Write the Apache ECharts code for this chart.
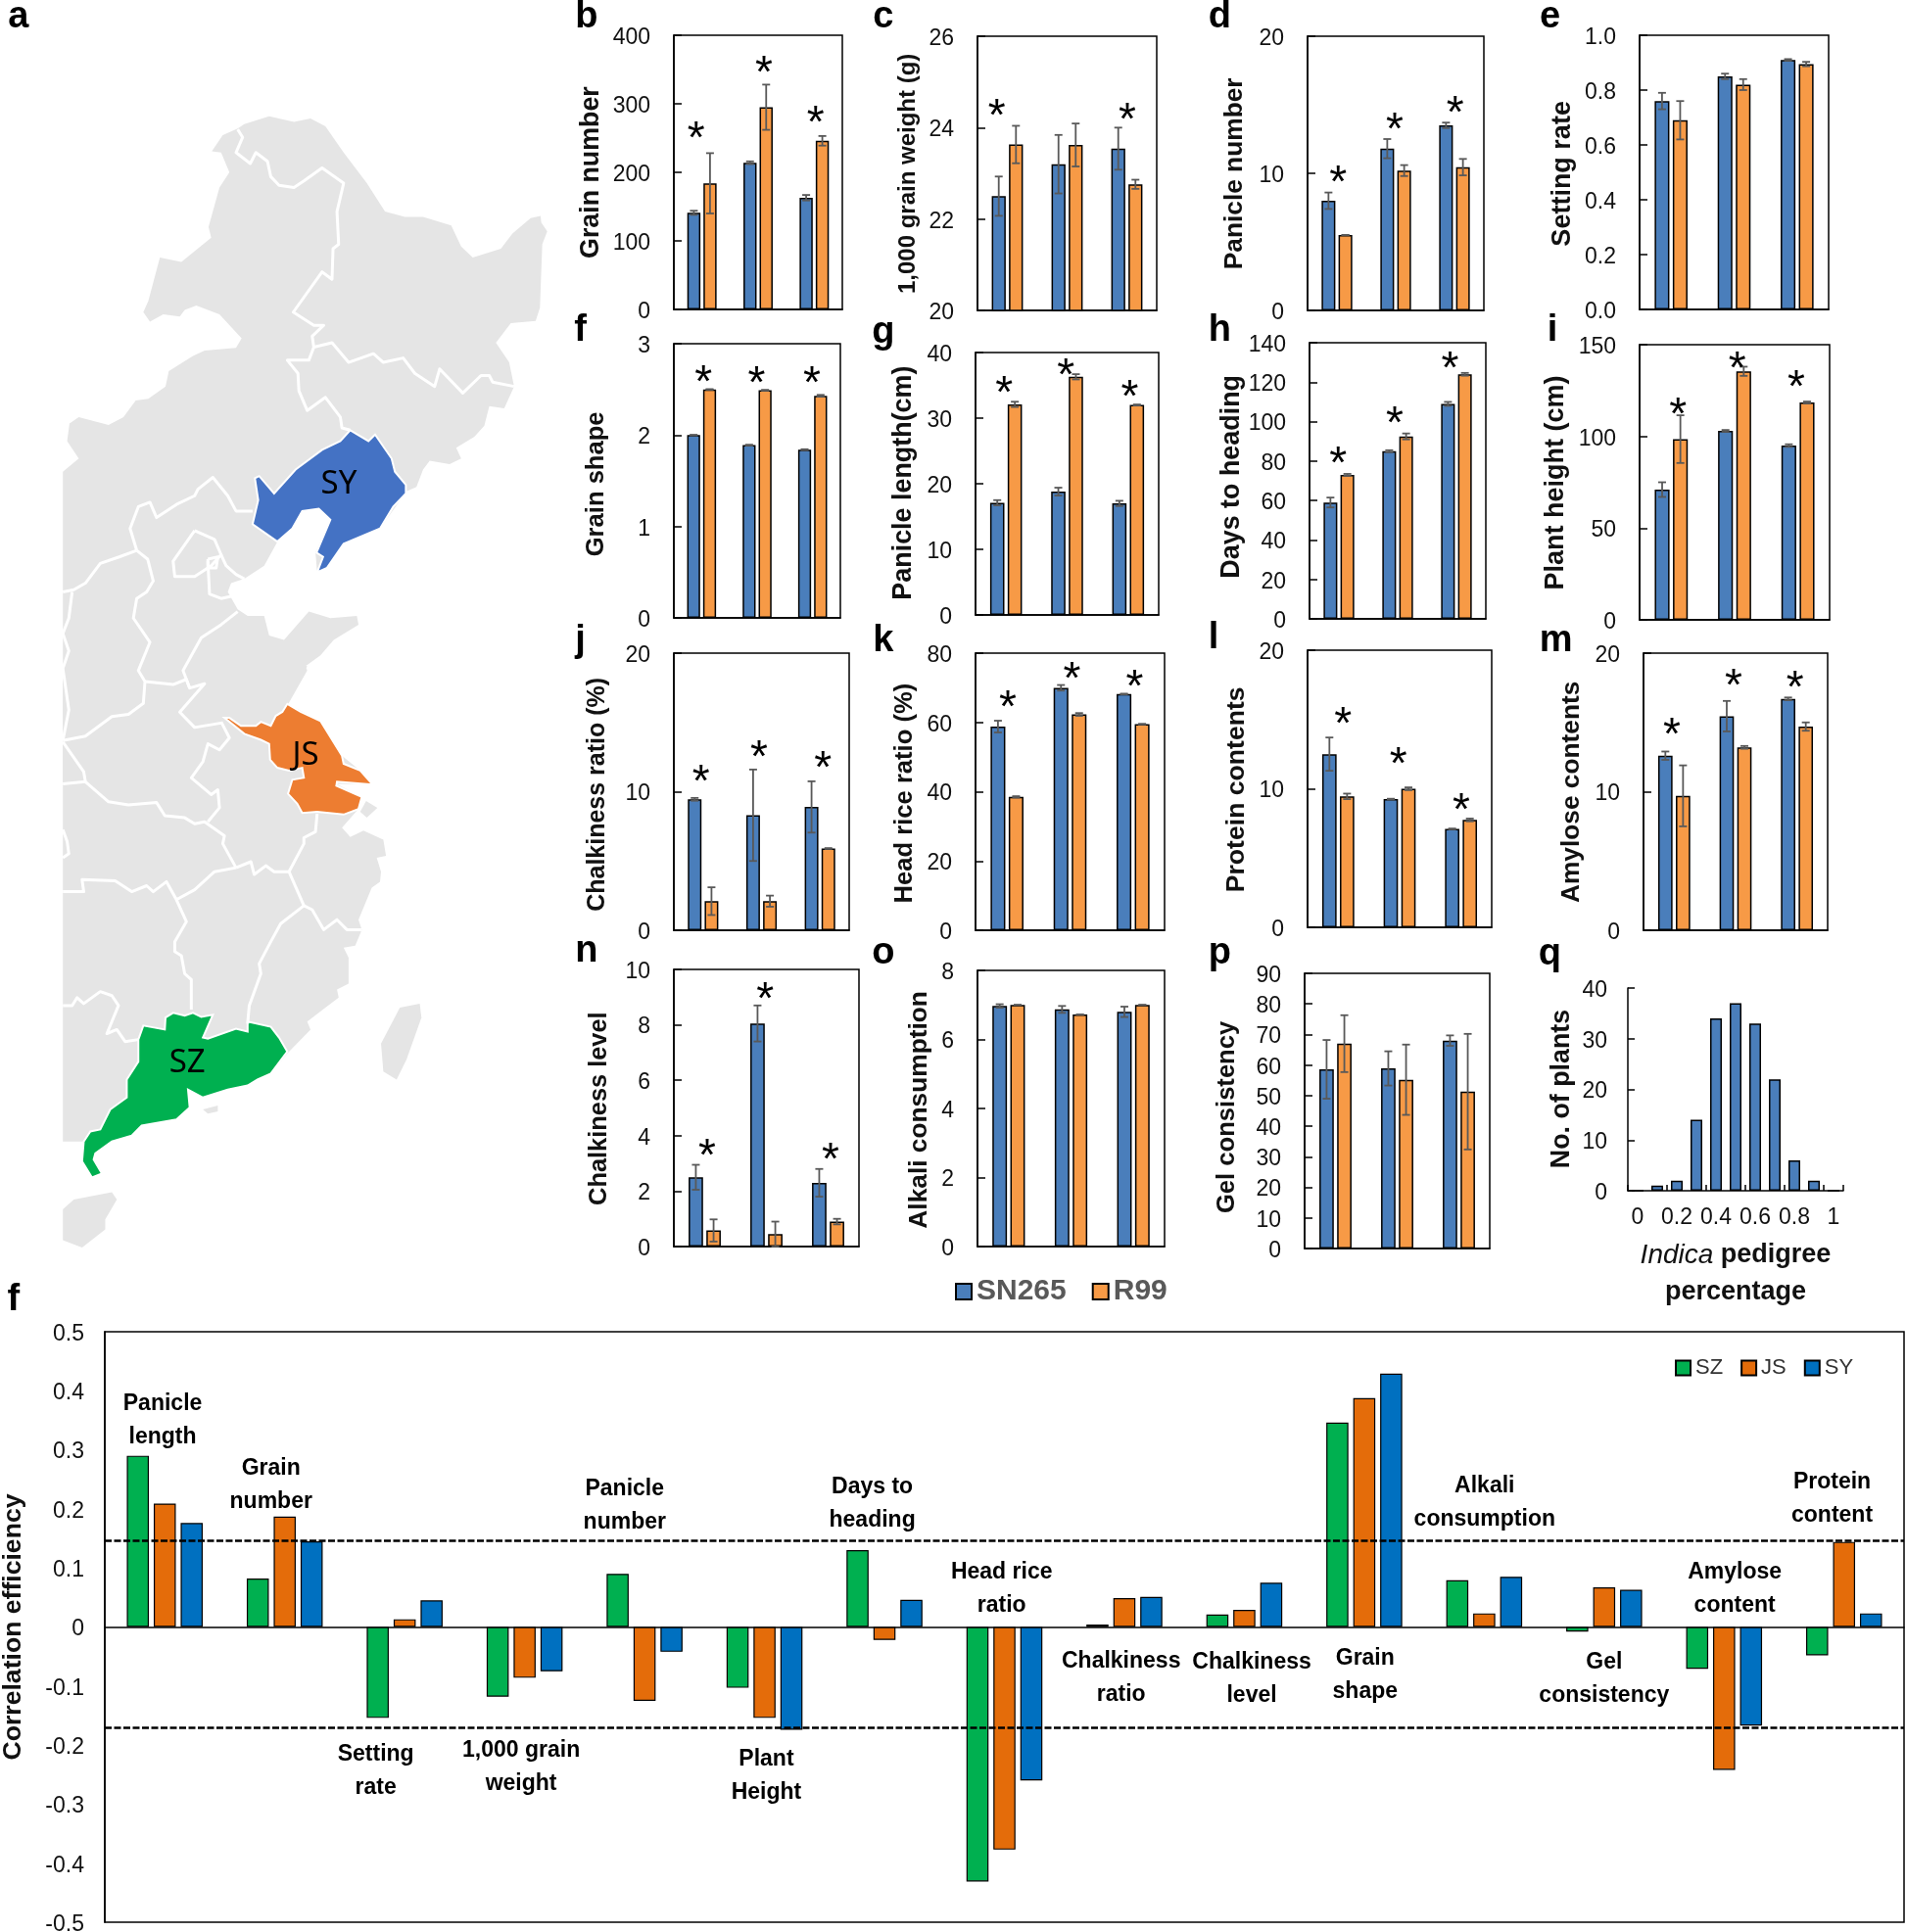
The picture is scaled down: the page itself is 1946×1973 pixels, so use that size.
<!DOCTYPE html>
<html><head><meta charset="utf-8">
<style>html,body{margin:0;padding:0;background:#fff}#c{width:1946px;height:1973px}</style>
<script src="https://cdn.jsdelivr.net/npm/echarts@6/dist/echarts.min.js"></script>
</head><body><div id="c"></div>
<script>
// ---------- data ----------
const sites = ['SZ', 'JS', 'SY'];
const grainNumberSN = [141, 214, 163], grainNumberR = [184, 295, 246], grainNumberSNe = [3, 2, 4], grainNumberRe = [44, 33, 7];
const grainWeightSN = [22.5, 23.2, 23.54], grainWeightR = [23.63, 23.62, 22.76], grainWeightSNe = [0.43, 0.64, 0.46], grainWeightRe = [0.41, 0.47, 0.1];
const panicleNumSN = [8, 11.8, 13.5], panicleNumR = [5.5, 10.2, 10.45], panicleNumSNe = [0.6, 0.7, 0.2], panicleNumRe = [0, 0.4, 0.6];
const settingSN = [0.76, 0.85, 0.91], settingR = [0.69, 0.82, 0.895], settingSNe = [0.03, 0.01, 0.003], settingRe = [0.07, 0.02, 0.008];
const shapeSN = [2, 1.89, 1.84], shapeR = [2.5, 2.49, 2.43], shapeSNe = [0.003, 0.005, 0.005], shapeRe = [0.003, 0.005, 0.01];
const panicleLenSN = [17.1, 18.8, 17], panicleLenR = [32.1, 36.3, 32], panicleLenSNe = [0.4, 0.6, 0.4], panicleLenRe = [0.4, 0.4, 0.08];
const headingSN = [59, 85, 109], headingR = [73, 92.5, 124], headingSNe = [2.5, 0.5, 1], headingRe = [0.5, 1.5, 0.7];
const heightSN = [71, 103, 95], heightR = [98.5, 135.5, 118.5], heightSNe = [4, 0.5, 0.7], heightRe = [13, 2.5, 0.5];
const chalkRatioSN = [9.45, 8.3, 8.9], chalkRatioR = [2.1, 2.1, 5.9], chalkRatioSNe = [0.1, 3.3, 1.85], chalkRatioRe = [1, 0.4, 0.03];
const headRiceSN = [58.8, 70, 68.2], headRiceR = [38.5, 62.3, 59.5], headRiceSNe = [1.7, 0.8, 0.1], headRiceRe = [0.2, 0.4, 0.1];
const proteinSN = [12.5, 9.25, 7.1], proteinR = [9.45, 10, 7.75], proteinSNe = [1.2, 0.03, 0.03], proteinRe = [0.2, 0.1, 0.1];
const amyloseSN = [12.6, 15.45, 16.7], amyloseR = [9.7, 13.2, 14.7], amyloseSNe = [0.3, 1.1, 0.1], amyloseRe = [2.2, 0.1, 0.3];
const chalkLevelSN = [2.5, 8.05, 2.3], chalkLevelR = [0.58, 0.45, 0.9], chalkLevelSNe = [0.45, 0.65, 0.5], chalkLevelRe = [0.4, 0.45, 0.1];
const alkaliSN = [6.97, 6.87, 6.8], alkaliR = [7, 6.72, 7], alkaliSNe = [0.05, 0.1, 0.15], alkaliRe = [0, 0, 0];
const gelSN = [58.6, 58.9, 68], gelR = [67, 55.2, 51.3], gelSNe = [9.6, 5.6, 1.7], gelRe = [9.3, 11.5, 18.9];
const pedigreeBins = ['0', '0.1', '0.2', '0.3', '0.4', '0.5', '0.6', '0.7', '0.8', '0.9', '1'];
const pedigreeCounts = [0, 1, 2, 14, 34, 37, 33, 22, 6, 2, 0];
const traits = ['Panicle length', 'Grain number', 'Setting rate', '1,000 grain weight', 'Panicle number', 'Plant Height', 'Days to heading', 'Head rice ratio', 'Chalkiness ratio', 'Chalkiness level', 'Grain shape', 'Alkali consumption', 'Gel consistency', 'Amylose content', 'Protein content'];
const corrSZ = [0.29, 0.082, -0.154, -0.118, 0.09, -0.103, 0.13, -0.431, 0.004, 0.021, 0.346, 0.079, -0.008, -0.071, -0.048];
const corrJS = [0.209, 0.187, 0.013, -0.086, -0.125, -0.154, -0.022, -0.377, 0.049, 0.029, 0.3875, 0.023, 0.067, -0.242, 0.144];
const corrSY = [0.176, 0.145, 0.045, -0.075, -0.042, -0.174, 0.046, -0.26, 0.051, 0.075, 0.429, 0.085, 0.063, -0.167, 0.023];
const thresholds = [0.146, -0.17];

// ---------- map outlines (traced in crop frames, converted below) ----------
const northLand = [[42,855],[90,825],[55,785],[62,745],[90,730],[180,748],[225,730],[262,692],[300,688],[352,660],[362,625],[435,590],[470,578],[565,572],[582,550],[515,495],[445,475],[410,485],[395,500],[345,495],[305,512],[285,490],[300,465],[335,365],[400,375],[490,320],[482,295],[515,205],[545,170],[520,125],[492,122],[525,85],[570,70],[590,60],[665,42],[740,55],[790,47],[835,65],[890,125],[960,195],[1015,260],[1075,272],[1130,272],[1215,292],[1245,340],[1280,365],[1365,345],[1400,310],[1455,275],[1485,270],[1487,285],[1505,305],[1490,335],[1483,480],[1470,510],[1395,515],[1350,560],[1390,605],[1405,660],[1375,710],[1330,705],[1315,750],[1285,775],[1230,800],[1245,825],[1210,838],[1150,830],[1130,850],[1110,890],[1080,900],[1000,985],[890,1020],[840,1075],[810,1085],[805,1040],[850,965],[815,940],[765,945],[735,985],[690,1015],[650,1070],[590,1100],[550,1110],[540,1130],[570,1170],[600,1185],[650,1185],[665,1230],[710,1240],[785,1175],[850,1190],[930,1185],[935,1205],[860,1240],[820,1275],[775,1300],[780,1310],[720,1390],[760,1568],[42,1568]];
const southLand = [[42,0],[780,0],[720,95],[820,138],[885,225],[940,262],[978,297],[868,295],[945,328],[935,358],[885,405],[910,428],[950,412],[1010,435],[1018,475],[990,480],[1003,515],[1000,540],[975,555],[935,635],[945,660],[925,700],[890,705],[905,730],[905,795],[870,810],[875,830],[835,855],[780,890],[790,910],[725,965],[670,1020],[630,1035],[600,1050],[540,1060],[465,1080],[420,1060],[425,1105],[385,1135],[280,1150],[250,1175],[190,1190],[105,1190],[42,1190]];
const shanghaiIsle = [[958,338],[992,355],[960,380],[940,365]];
const hainan = [[42,1360],[75,1335],[190,1317],[205,1335],[170,1385],[170,1410],[100,1455],[42,1437]];
const taiwan = [[1060,855],[1120,845],[1125,880],[1080,985],[1050,1035],[1010,1015],[1003,945]];
const islet = [[465,1110],[510,1100],[510,1115],[480,1120]];
const syRegion = [[910,760],[965,785],[985,770],[1035,825],[1045,855],[1078,885],[1078,905],[1040,935],[1000,985],[890,1020],[840,1075],[810,1085],[828,1050],[808,1040],[850,965],[815,940],[765,945],[735,985],[690,1015],[615,975],[632,920],[622,870],[635,865],[680,905],[745,850],[825,805],[880,785]];
const jsRegion = [[530,130],[545,130],[580,150],[625,150],[640,140],[670,150],[685,125],[705,115],[720,95],[760,115],[820,138],[885,225],[890,245],[940,262],[978,297],[905,292],[870,290],[868,300],[945,328],[935,358],[890,372],[810,365],[765,368],[750,345],[722,320],[735,285],[770,280],[765,255],[725,262],[690,255],[668,235],[665,195],[640,185],[590,170]];
const szRegion = [[270,935],[285,900],[350,910],[352,880],[375,868],[410,875],[435,868],[460,878],[495,873],[465,930],[480,933],[565,908],[600,915],[600,890],[670,903],[695,930],[720,965],[670,1020],[630,1035],[600,1050],[540,1060],[465,1080],[420,1060],[425,1105],[385,1135],[280,1150],[250,1175],[190,1190],[140,1220],[135,1235],[160,1270],[130,1280],[100,1240],[105,1190],[125,1165],[155,1160],[185,1110],[235,1080],[235,1035],[270,990]];
const northBorders = [
 [[570,72],[585,90],[565,125],[608,150],[625,125],[660,145],[670,180],[695,200],[740,205],[770,190],[825,160],[890,195],[870,260],[875,335],[858,345],[855,415],[825,398],[738,490],[800,520],[830,520],[795,545],[800,570],[785,600],[720,600],[752,630],[755,670],[780,715],[835,685],[880,730],[885,755],[910,760]],
 [[800,570],[855,560],[905,605],[980,585],[1010,605],[1070,595],[1105,630],[1165,660],[1180,620],[1250,675],[1305,635],[1330,635],[1340,650],[1405,660]],
 [[615,945],[565,945],[540,910],[495,868],[450,895],[440,910],[385,930],[325,960],[305,925],[270,935],[245,985],[265,1035]],
 [[265,1035],[212,1050],[155,1065],[110,1110],[75,1125],[42,1130]],
 [[265,1035],[298,1055],[315,1105],[295,1130],[265,1145],[255,1190],[305,1245],[270,1310],[290,1335],[285,1385],[240,1410],[190,1415],[110,1460],[42,1470]],
 [[290,1335],[375,1342],[415,1330],[425,1350],[470,1340],[395,1405],[440,1440],[520,1430]],
 [[425,1350],[405,1310],[460,1235],[520,1205],[570,1175]],
 [[440,990],[500,1010],[520,1045],[490,1070],[440,1095],[380,1095],[375,1060],[440,990]],
 [[520,1045],[535,1070],[565,1090],[590,1100]],
 [[480,1060],[485,1135],[520,1145],[550,1140]],
 [[480,1055],[510,1050],[505,1075],[480,1075],[480,1055]],
 [[70,1130],[60,1190],[42,1225],[60,1265],[42,1305],[60,1400],[42,1470]]
];
const southBorders = [
 [[42,190],[105,265],[110,290],[180,340],[240,348],[325,342],[350,375],[410,380],[440,395],[470,390],[530,425],[525,445],[565,505]],
 [[42,295],[110,290]],
 [[520,140],[545,180],[515,210],[480,195],[465,240],[430,280],[490,322],[510,310],[515,355],[480,390]],
 [[565,505],[610,490],[620,522],[655,500],[680,515],[725,515],[770,445],[770,430],[805,415],[810,370]],
 [[565,505],[500,515],[440,560],[385,585],[355,540],[315,565],[295,550],[250,565],[200,538],[100,535],[105,565],[42,565]],
 [[385,585],[415,640],[380,690],[380,715],[400,725],[410,770],[430,785],[430,860]],
 [[725,515],[770,600],[700,645],[670,690],[635,745],[640,770],[605,850],[600,895]],
 [[770,600],[795,610],[830,660],[870,635],[900,660],[945,660]],
 [[42,850],[70,850],[85,830],[105,845],[155,815],[190,825],[210,850],[175,920],[205,910],[230,940],[270,935]],
 [[42,410],[55,440],[60,470],[42,480]]
];

// ---------- layout ----------
const S = 1946 / 1547;
const FONT = '"Liberation Sans"';
const BLUE = '#4A7EBB', ORANGE = '#F79A46';
const sn = (a,b,c,d)=>({sn:a,r:b,sne:c,re:d});
const panels = [
 {t:'Grain number',box:[688,36,860,316],min:0,max:400,iv:100,fs:26.8,nx:477,ny:140,d:sn(grainNumberSN,grainNumberR,grainNumberSNe,grainNumberRe)},
 {t:'1,000 grain weight (g)',box:[998,37,1181,317],min:20,max:26,iv:2,fs:24,nx:735,ny:141,d:sn(grainWeightSN,grainWeightR,grainWeightSNe,grainWeightRe)},
 {t:'Panicle number',box:[1335,37,1515,317],min:0,max:20,iv:10,fs:26.3,nx:1000,ny:141,d:sn(panicleNumSN,panicleNumR,panicleNumSNe,panicleNumRe)},
 {t:'Setting rate',box:[1674,36,1867,316],min:0,max:1,iv:0.2,fs:27,nx:1266,ny:141,dec:1,d:sn(settingSN,settingR,settingSNe,settingRe)},
 {t:'Grain shape',box:[688,351,858,631],min:0,max:3,iv:1,fs:25.6,nx:482,ny:393,d:sn(shapeSN,shapeR,shapeSNe,shapeRe)},
 {t:'Panicle length(cm)',box:[996,360,1183,628],min:0,max:40,iv:10,fs:26.9,nx:731,ny:392,d:sn(panicleLenSN,panicleLenR,panicleLenSNe,panicleLenRe)},
 {t:'Days to heading',box:[1337,350,1517,632],min:0,max:140,iv:20,fs:26.9,nx:997,ny:387,d:sn(headingSN,headingR,headingSNe,headingRe)},
 {t:'Plant height (cm)',box:[1674,352,1868,633],min:0,max:150,iv:50,fs:27,nx:1260,ny:392,d:sn(heightSN,heightR,heightSNe,heightRe)},
 {t:'Chalkiness ratio (%)',box:[688,667,867,950],min:0,max:20,iv:10,fs:25,nx:483,ny:645,d:sn(chalkRatioSN,chalkRatioR,chalkRatioSNe,chalkRatioRe)},
 {t:'Head rice ratio (%)',box:[996,667,1189,950],min:0,max:80,iv:20,fs:25.6,nx:732,ny:644,d:sn(headRiceSN,headRiceR,headRiceSNe,headRiceRe)},
 {t:'Protein contents',box:[1335,664,1523,947],min:0,max:20,iv:10,fs:26.6,nx:1001,ny:641,d:sn(proteinSN,proteinR,proteinSNe,proteinRe)},
 {t:'Amylose contents',box:[1678,667,1866,950],min:0,max:20,iv:10,fs:26.3,nx:1273,ny:643,d:sn(amyloseSN,amyloseR,amyloseSNe,amyloseRe)},
 {t:'Chalkiness level',box:[688,990,877,1273],min:0,max:10,iv:2,fs:25.4,nx:484,ny:900,d:sn(chalkLevelSN,chalkLevelR,chalkLevelSNe,chalkLevelRe)},
 {t:'Alkali consumption',box:[998,991,1189,1273],min:0,max:8,iv:2,fs:26.3,nx:744,ny:901,d:sn(alkaliSN,alkaliR,alkaliSNe,alkaliRe)},
 {t:'Gel consistency',box:[1332,994,1521,1275],min:0,max:90,iv:10,fs:25.6,nx:994,ny:907,d:sn(gelSN,gelR,gelSNe,gelRe)}
];
const panelLetters = [['a',15,14],['b',476,14],['c',717,14],['d',990,14],['e',1258,14],['f',471,268],['g',717,270],['h',990,268],['i',1260,268],['j',471,520],['k',717,520],['l',985,518],['m',1263,520],['n',476,772],['o',717,774],['p',990,774],['q',1258,775],['f',11,1055]];
const starMarks = [[565,106],[620,53],[662,93],[809,88],[915,91],[1086,142],[1132,99],[1181,85],[571,304],[614,305],[659,305],[815,313],[865,298],[917,316],[1086,370],[1132,337],[1177,293],[1362,330],[1410,293],[1458,308],[569,628],[616,608],[668,617],[818,568],[870,545],[921,551],[1090,581],[1135,614],[1186,651],[1357,590],[1407,550],[1457,552],[574,932],[621,805],[674,935]];
const traitLabelPos = [[132,1153],[220,1206],[305,1438],[423,1435],[507,1222],[622,1442],[708,1221],[813,1290],[910,1362],[1016,1363],[1108,1360],[1205,1220],[1302,1363],[1408,1290],[1487,1217]];
const siteLabels = [['SY',275,393],['JS',248,613],['SZ',152,863]];

const BW = 0.234, GAP = 0.23;
function errorSeries(name, gridIdx, vals, errs, side){
  return {
    type:'custom', name, xAxisIndex:gridIdx, yAxisIndex:gridIdx, z:5, silent:true, clip:false,
    data: vals.map((v,i)=>[i,v,errs[i]]),
    encode:{x:0,y:1},
    renderItem(params, api){
      const i=api.value(0), v=api.value(1), e=api.value(2);
      const cat=api.size([1,0])[0];
      const off=side*cat*BW*(1+GAP)/2;
      const top=api.coord([i,v+e]), bot=api.coord([i,v-e]);
      const x=top[0]+off, cap=4;
      const st={stroke:'#595959',lineWidth:1.8,fill:null};
      return {type:'group',children:[
        {type:'line',shape:{x1:x,y1:top[1],x2:x,y2:bot[1]},style:st},
        {type:'line',shape:{x1:x-cap,y1:top[1],x2:x+cap,y2:top[1]},style:st},
        {type:'line',shape:{x1:x-cap,y1:bot[1],x2:x+cap,y2:bot[1]},style:st}
      ]};
    }
  };
}
const labelBase = {color:'#111',fontFamily:FONT,fontSize:23};
const yLabelNudge = {verticalAlign:'top',lineHeight:5};
const grid=[], xAxis=[], yAxis=[], series=[];
panels.forEach((p,i)=>{
  const [l,t,r,b]=p.box;
  grid.push({left:l,top:t,width:r-l,height:b-t,outerBoundsMode:'none',show:true,borderColor:'#000',borderWidth:1.5,backgroundColor:'transparent'});
  xAxis.push({type:'category',gridIndex:i,data:sites,axisTick:{show:false},axisLabel:{show:false},axisLine:{lineStyle:{color:'#000',width:1.5}}});
  const gap = l - p.nx*S - p.fs*0.62;
  const shift = p.ny*S - (t+b)/2;
  yAxis.push({type:'value',gridIndex:i,min:p.min,max:p.max,interval:p.iv,splitLine:{show:false},
    axisLine:{show:true,lineStyle:{color:'#000',width:1.5}},
    axisTick:{show:true,inside:true,length:8,lineStyle:{color:'#000',width:1.5}},
    axisLabel:Object.assign({margin:24,formatter:p.dec?(v=>v.toFixed(p.dec)):(v=>String(v))},labelBase,yLabelNudge),
    name:p.t,nameLocation:'middle',nameRotate:90,nameGap:gap,
    nameTextStyle:{fontFamily:FONT,fontWeight:'bold',fontSize:p.fs,color:'#111',padding:shift>0?[0,2*shift,0,0]:[0,0,0,-2*shift]}});
  const st=c=>({color:c,borderColor:'#000',borderWidth:1.5});
  series.push({type:'bar',name:'SN265',xAxisIndex:i,yAxisIndex:i,data:p.d.sn,barWidth:(BW*100)+'%',barGap:(GAP*100)+'%',itemStyle:st(BLUE)});
  series.push({type:'bar',name:'R99',xAxisIndex:i,yAxisIndex:i,data:p.d.r,barWidth:(BW*100)+'%',barGap:(GAP*100)+'%',itemStyle:st(ORANGE)});
  series.push(errorSeries('SN265 error',i,p.d.sn,p.d.sne,-1));
  series.push(errorSeries('R99 error',i,p.d.r,p.d.re,1));
});
// q: histogram
const qi=panels.length;
grid.push({left:1662,top:1009,width:220,height:207,outerBoundsMode:'none'});
xAxis.push({type:'category',gridIndex:qi,data:pedigreeBins,
  axisLine:{lineStyle:{color:'#000',width:1.5}},
  axisTick:{show:true,inside:true,length:6,lineStyle:{color:'#000',width:1.5}},
  axisLabel:Object.assign({interval:1,margin:16},labelBase),
  name:'{i|Indica} pedigree\npercentage',nameLocation:'middle',nameGap:47,
  nameTextStyle:{fontFamily:FONT,fontWeight:'bold',fontSize:27,color:'#111',lineHeight:38,verticalAlign:'top',
    rich:{i:{fontFamily:FONT,fontStyle:'italic',fontWeight:'normal',fontSize:28,color:'#111',lineHeight:38}}}});
yAxis.push({type:'value',gridIndex:qi,min:0,max:40,interval:10,splitLine:{show:false},
  axisLine:{show:true,lineStyle:{color:'#000',width:1.5}},
  axisTick:{show:true,inside:true,length:7,lineStyle:{color:'#000',width:1.5}},
  axisLabel:Object.assign({margin:21},labelBase,yLabelNudge),
  name:'No. of plants',nameLocation:'middle',nameRotate:90,nameGap:1662-1265*S-26.8*0.62,
  nameTextStyle:{fontFamily:FONT,fontWeight:'bold',fontSize:26.8,color:'#111',padding:[0,0,0,2*((1009+1216)/2-884*S)]}});
series.push({type:'bar',name:'Plants',xAxisIndex:qi,yAxisIndex:qi,data:pedigreeCounts,barWidth:'60%',itemStyle:{color:BLUE,borderColor:'#000',borderWidth:1.5}});
// bottom correlation chart
const fi=qi+1;
grid.push({left:107,top:1360,width:1837,height:603,outerBoundsMode:'none',show:true,borderColor:'#000',borderWidth:1.5,backgroundColor:'transparent'});
xAxis.push({type:'category',gridIndex:fi,data:traits,axisTick:{show:false},axisLabel:{show:false},axisLine:{onZero:true,lineStyle:{color:'#000',width:1.5}}});
yAxis.push({type:'value',gridIndex:fi,min:-0.5,max:0.5,interval:0.1,splitLine:{show:false},
  axisLine:{show:true,onZero:false,lineStyle:{color:'#000',width:1.5}},axisTick:{show:false},
  axisLabel:Object.assign({margin:21},labelBase,yLabelNudge),
  name:'Correlation efficiency',nameLocation:'middle',nameRotate:90,nameGap:107-11-26.6*0.62,
  nameTextStyle:{fontFamily:FONT,fontWeight:'bold',fontSize:26.6,color:'#111'}});
[['SZ',corrSZ,'#00B050'],['JS',corrJS,'#E46C0A'],['SY',corrSY,'#0070C0']].forEach(([n,d,c],k)=>{
  const s={type:'bar',name:n,xAxisIndex:fi,yAxisIndex:fi,data:d,barWidth:'18.4%',barGap:'22%',itemStyle:{color:c,borderColor:'#000',borderWidth:1.2}};
  if(k===2) s.markLine={silent:true,symbol:'none',animation:false,precision:4,label:{show:false},
    lineStyle:{color:'#000',type:[7,2.5],width:2.6},data:thresholds.map(v=>({yAxis:v}))};
  series.push(s);
});

// map
const z5=a=>a.map(([X,Y])=>[50+X*530/1568,-(100+Y*700/1568)]);
const z6=a=>a.map(([X,Y])=>[50+X*530/1568,-(680+Y*640/1568)]);
const feat=(name,ring)=>({type:'Feature',properties:{name},geometry:{type:'Polygon',coordinates:[ring.concat([ring[0]])]}});
echarts.registerMap('eastChina',{type:'FeatureCollection',features:[
  feat('north',z5(northLand)),feat('south',z6(southLand)),feat('shanghai',z6(shanghaiIsle)),
  feat('hainan',z6(hainan)),feat('taiwan',z6(taiwan)),feat('islet',z6(islet)),
  feat('SY',z5(syRegion)),feat('JS',z6(jsRegion)),feat('SZ',z6(szRegion))
]});
const regionStyle=c=>({itemStyle:{areaColor:c,borderColor:'#fff',borderWidth:2}});
series.push({type:'lines',coordinateSystem:'geo',polyline:true,silent:true,z:1,
  lineStyle:{color:'#fff',width:3,opacity:1,join:'round'},
  data:northBorders.map(z5).concat(southBorders.map(z6)).map(coords=>({coords}))});

// graphic text
const texts=[];
panelLetters.forEach(([t,x,y])=>texts.push({type:'text',x:x*S,y:y*S,z:100,silent:true,style:{text:t,font:'bold 38px '+FONT,fill:'#000',align:'center',verticalAlign:'middle'}}));
starMarks.forEach(([x,y])=>texts.push({type:'text',x:x*S,y:y*S+10,z:100,silent:true,style:{text:'*',font:'46px '+FONT,fill:'#000',align:'center',verticalAlign:'middle'}}));
traits.forEach((t,i)=>{
  const parts=t.split(' ');
  const two=parts.length===3?(parts[0]+' '+parts[1]+'\n'+parts[2]):parts.join('\n');
  const txt=t==='Head rice ratio'?'Head rice\nratio':two;
  texts.push({type:'text',x:traitLabelPos[i][0]*S,y:traitLabelPos[i][1]*S,z:100,silent:true,style:{text:txt,font:'bold 23px '+FONT,lineHeight:34,fill:'#000',align:'center',verticalAlign:'middle'}});
});
siteLabels.forEach(([t,x,y])=>texts.push({type:'text',x:x*S,y:y*S,z:100,silent:true,style:{text:t,font:'33px "Noto Sans"',fill:'#000',align:'center',verticalAlign:'middle'}}));

const chart=echarts.init(document.getElementById('c'),null,{renderer:'canvas',width:1946,height:1973});
chart.setOption({
  animation:false,backgroundColor:'#fff',
  legend:[
    {data:['SN265','R99'],icon:'rect',left:970,top:1299,itemWidth:16,itemHeight:16,itemGap:26,selectedMode:false,textStyle:{fontFamily:FONT,fontWeight:'bold',fontSize:30,color:'#595959'}},
    {data:['SZ','JS','SY'],icon:'rect',left:1705,top:1381,itemWidth:15,itemHeight:15,itemGap:18,selectedMode:false,textStyle:{fontFamily:FONT,fontSize:22,color:'#333'}}
  ],
  geo:{map:'eastChina',left:0,top:0,width:600,height:1300,aspectScale:1,roam:false,silent:true,
    boundingCoords:[[0,0],[600,-1300]],
    itemStyle:{areaColor:'#E5E5E5',borderWidth:0,borderColor:'#E5E5E5'},
    label:{show:false},emphasis:{disabled:true},
    regions:[Object.assign({name:'SY'},regionStyle('#4472C4')),Object.assign({name:'JS'},regionStyle('#ED7D31')),Object.assign({name:'SZ'},regionStyle('#00B050'))]},
  grid,xAxis,yAxis,series,
  graphic:{elements:texts}
});
</script></body></html>
